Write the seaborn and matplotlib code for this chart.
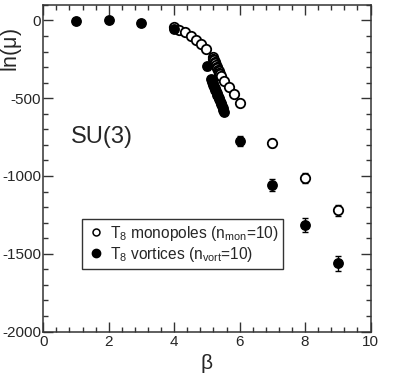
import matplotlib
matplotlib.use("Agg")
import matplotlib.pyplot as plt
from matplotlib.lines import Line2D
from matplotlib.ticker import MultipleLocator
import seaborn as sns
import pandas as pd

# ---- data ----
vort_beta = [1, 2, 3, 4, 5.0, 5.12, 5.14, 5.16, 5.18, 5.2, 5.22, 5.24, 5.26, 5.28, 5.3,
             5.32, 5.34, 5.36, 5.38, 5.4, 5.42, 5.44, 5.46, 5.48, 5.5, 5.52, 6, 7, 8, 9]
vort_lnmu = [-2, 0, -19, -52, -295, -375, -385, -394, -405, -414, -425, -434, -444, -455, -465,
             -476, -486, -496, -507, -518, -528, -540, -551, -562, -574, -588, -775, -1058, -1313, -1562]
vort_err = [5, 5, 8, 25, 22, 10, 10, 10, 10, 10, 10, 10, 10, 10, 10,
            10, 10, 10, 10, 10, 12, 12, 14, 16, 18, 22, 32, 40, 46, 48]

mon_beta = [4.0, 4.16, 4.33, 4.5, 4.66, 4.82, 4.98, 5.18, 5.2, 5.22, 5.24, 5.26, 5.28, 5.3,
            5.32, 5.34, 5.36, 5.38, 5.4, 5.42, 5.52, 5.66, 5.82, 6.0, 7, 8, 9]
mon_lnmu = [-45, -62, -77, -99, -124, -152, -184, -237, -246, -256, -266, -276, -286, -296,
            -306, -316, -326, -336, -346, -356, -390, -429, -474, -530, -789, -1010, -1221]
mon_err = [8, 6, 6, 6, 6, 6, 6, 8, 8, 8, 8, 8, 8, 8,
           8, 8, 8, 8, 8, 8, 8, 10, 10, 12, 25, 32, 37]

legend_labels = [r"T$_8$ monopoles (n$_\mathrm{mon}$=10)", r"T$_8$ vortices (n$_\mathrm{vort}$=10)"]
group_label = "SU(3)"

# ---- style ----
sns.set_style("ticks")
plt.rcParams["font.family"] = ["Liberation Sans", "DejaVu Sans"]
plt.rcParams["mathtext.fontset"] = "custom"
plt.rcParams["mathtext.rm"] = "Liberation Sans"
plt.rcParams["mathtext.it"] = "Liberation Sans"
plt.rcParams["mathtext.default"] = "regular"
plt.rcParams["axes.unicode_minus"] = False

fig = plt.figure(figsize=(4.15, 3.79), dpi=100)
ax = fig.add_axes([0.1043, 0.1253, 0.7886, 0.8617])

df_v = pd.DataFrame({"beta": vort_beta, "lnmu": vort_lnmu, "err": vort_err})
df_m = pd.DataFrame({"beta": mon_beta, "lnmu": mon_lnmu, "err": mon_err})

# error bars
ax.errorbar(df_m["beta"], df_m["lnmu"], yerr=df_m["err"], fmt="none", ecolor="black",
            elinewidth=1.0, capsize=2.5, capthick=1.0, zorder=2)
ax.errorbar(df_v["beta"], df_v["lnmu"], yerr=df_v["err"], fmt="none", ecolor="black",
            elinewidth=1.0, capsize=2.5, capthick=1.0, zorder=2)

# markers
sns.scatterplot(data=df_m, x="beta", y="lnmu", ax=ax, marker="o", s=46,
                facecolor="white", edgecolor="black", linewidth=1.3, zorder=3)
sns.scatterplot(data=df_v, x="beta", y="lnmu", ax=ax, marker="o", s=46,
                color="black", edgecolor="black", linewidth=1.0, zorder=4)

ax.set_xlim(0, 10)
ax.set_ylim(-2000, 100)
ax.xaxis.set_major_locator(MultipleLocator(2))
ax.xaxis.set_minor_locator(MultipleLocator(0.4))
ax.yaxis.set_major_locator(MultipleLocator(500))
ax.yaxis.set_minor_locator(MultipleLocator(100))
ax.tick_params(which="both", direction="in", top=True, right=True, labelsize=11,
               color="#333333", width=1.0)
ax.tick_params(axis="y", pad=1.5)
ax.tick_params(axis="x", pad=2.5)
ax.tick_params(which="major", length=7)
ax.tick_params(which="minor", length=3.5)
for s in ax.spines.values():
    s.set_linewidth(1.1)
    s.set_color("#333333")

ax.set_xlabel(r"$\beta$", fontsize=15, labelpad=2)
ax.set_ylabel(r"ln($\mu$)", fontsize=15.5)
ax.yaxis.set_label_coords(-0.058, 0.862)

ax.text(0.085, 0.595, group_label, transform=ax.transAxes, fontsize=17, ha="left", va="center")

handles = [
    Line2D([], [], marker="o", linestyle="none", markerfacecolor="white",
           markeredgecolor="black", markersize=5, markeredgewidth=1.1),
    Line2D([], [], marker="o", linestyle="none", markerfacecolor="black",
           markeredgecolor="black", markersize=6),
]
leg = ax.legend(handles, legend_labels, loc="upper left", bbox_to_anchor=(0.117, 0.345),
                fontsize=11.2, frameon=True, fancybox=False, edgecolor="black",
                borderpad=0.3, handletextpad=0.3, handlelength=1.2, labelspacing=0.15,
                borderaxespad=0)
leg.get_frame().set_linewidth(1.0)

fig.savefig("out.png", dpi=100)
